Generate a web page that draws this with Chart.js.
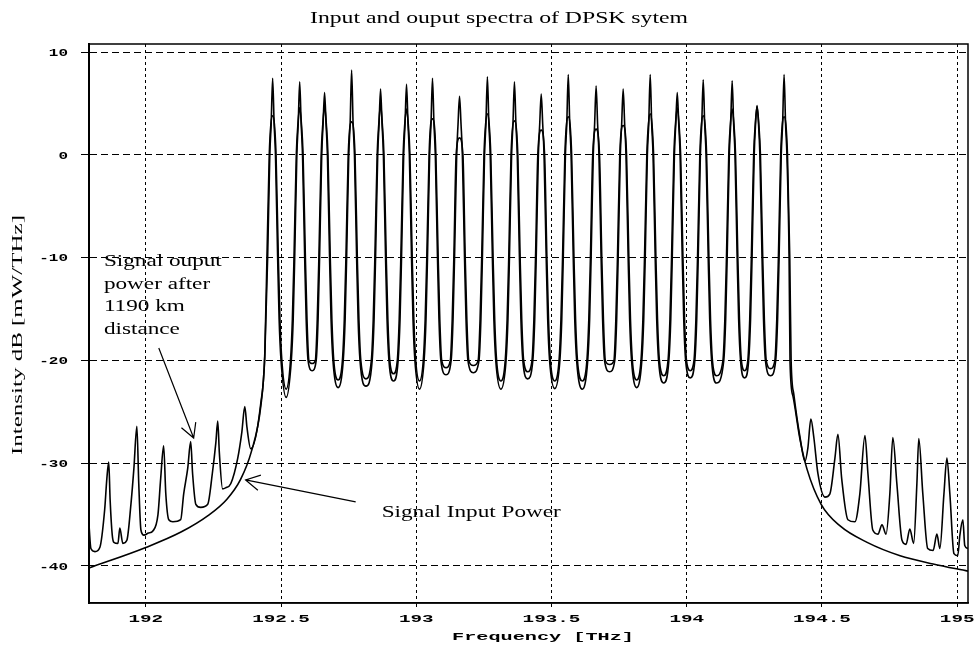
<!DOCTYPE html>
<html>
<head>
<meta charset="utf-8">
<title>DPSK spectra</title>
<script src="https://cdn.jsdelivr.net/npm/chart.js@4.4.1/dist/chart.umd.min.js"></script>
<style>
  html, body { margin: 0; padding: 0; background: #fff; }
  #wrap { width: 980px; height: 650px; position: relative; }
</style>
</head>
<body>
<div id="wrap"><canvas id="spec"></canvas></div>
<script>
// 20 WDM channels, 100 GHz grid (THz)
const chFreq = [192.469, 192.569, 192.661, 192.761, 192.868, 192.964, 193.060, 193.160, 193.263, 193.363,
                193.462, 193.562, 193.665, 193.765, 193.865, 193.965, 194.061, 194.168, 194.260, 194.360];
// peak levels (dB)
const peakIn  = [7.45, 7.1, 6.05, 8.25, 6.4, 6.85, 7.45, 5.7, 7.6, 7.1, 5.9, 7.8, 6.7, 6.4, 7.8, 6.05, 7.3, 7.2, 4.8, 7.8];
const peakOut = [3.8, 4.6, 4.75, 3.2, 4.9, 4.45, 3.5, 1.65, 4.0, 3.3, 2.4, 3.7, 2.5, 2.85, 4.0, 4.6, 3.8, 4.45, 4.7, 3.7];
// floor between neighbouring channels
const valleyFreq = [192.519, 192.615, 192.711, 192.814, 192.916, 193.012, 193.110, 193.211, 193.313, 193.412,
                    193.512, 193.614, 193.715, 193.815, 193.915, 194.013, 194.110, 194.214, 194.310];
const valleyIn  = [-23.6, -21.0, -22.65, -22.5, -22.0, -22.8, -21.4, -21.2, -22.8, -21.8,
                   -22.75, -22.8, -21.1, -22.65, -22.2, -21.7, -22.2, -21.7, -21.5];
const valleyOut = [-22.8, -20.3, -21.9, -21.8, -21.3, -22.0, -20.7, -20.5, -22.0, -21.1,
                   -22.0, -22.0, -20.4, -21.9, -21.5, -21.0, -21.5, -21.0, -20.8];
// flank levels (dB) and their distance from the channel centre (THz)
const flankLevels = [3, 0, -10, -16, -20];
const flankIn  = [0.0055, 0.0105, 0.0185, 0.024, 0.031];
const flankOut = [0.0065, 0.0125, 0.021, 0.027, 0.034];

// out-of-band parts [THz, dB]
const inLeft = [[191.79, -40.2], [192.0, -38.2], [192.13, -36.7], [192.23, -35.1], [192.30, -33.5],
                [192.35, -31.6], [192.39, -28.9], [192.425, -24.5], [192.44, -19.6]];
const inRight = [[194.382, -20.2], [194.393, -23.5], [194.419, -27.7], [194.445, -30.6], [194.497, -34.0],
                 [194.567, -36.1], [194.667, -37.7], [194.789, -39.0], [194.911, -39.8], [195.04, -40.5]];
const outLeft = [[191.79, -36.0], [191.797, -38.3], [191.812, -38.6], [191.830, -38.2], [191.848, -34.5],
                 [191.856, -31.5], [191.863, -29.9], [191.868, -33.5], [191.876, -37.0], [191.882, -37.7],
                 [191.897, -37.8], [191.904, -36.3], [191.915, -37.8], [191.930, -37.5], [191.945, -34.0],
                 [191.956, -30.5], [191.967, -26.4], [191.974, -32.0], [191.982, -36.5], [191.993, -37.0],
                 [192.010, -36.8], [192.026, -36.6], [192.045, -35.0], [192.055, -31.5], [192.066, -28.3],
                 [192.074, -33.0], [192.085, -35.5], [192.100, -35.7], [192.129, -35.5], [192.140, -33.0],
                 [192.155, -30.5], [192.166, -27.9], [192.173, -31.0], [192.185, -34.0], [192.203, -34.3],
                 [192.229, -34.0], [192.246, -31.0], [192.259, -28.0], [192.266, -25.9], [192.272, -29.0],
                 [192.284, -32.5], [192.295, -32.4], [192.314, -32.0], [192.340, -29.5], [192.355, -27.0],
                 [192.366, -24.5], [192.374, -26.5], [192.388, -28.6], [192.425, -24.2], [192.44, -19.3]];
const outRight = [[194.386, -20.0], [194.396, -23.3], [194.419, -27.5], [194.437, -29.8], [194.448, -28.5],
                  [194.459, -25.7], [194.470, -27.5], [194.485, -31.0], [194.511, -33.3], [194.529, -33.0],
                  [194.548, -29.5], [194.559, -27.2], [194.573, -31.5], [194.596, -35.5], [194.622, -35.7],
                  [194.640, -33.0], [194.659, -27.3], [194.670, -31.0], [194.688, -36.5], [194.707, -36.9],
                  [194.722, -36.0], [194.737, -36.9], [194.751, -33.0], [194.762, -27.5], [194.777, -32.0],
                  [194.796, -37.5], [194.811, -37.9], [194.825, -36.4], [194.839, -37.8], [194.851, -32.0],
                  [194.858, -27.6], [194.873, -33.0], [194.891, -38.3], [194.911, -38.5], [194.925, -36.9],
                  [194.936, -38.3], [194.951, -33.0], [194.962, -29.5], [194.973, -33.0], [194.988, -38.8],
                  [195.002, -39.0], [195.010, -37.0], [195.021, -35.5], [195.028, -38.0], [195.04, -38.3]];

const xTicks = [192, 192.5, 193, 193.5, 194, 194.5, 195];
const yTicks = [-40, -30, -20, -10, 0, 10];

// assemble one trace: left tail, channel flanks/peaks/valleys, right tail
function buildTrace(peaks, valleys, offs, left, right) {
  const pts = left.map(([x, y]) => ({ x, y }));
  const n = chFreq.length;
  chFreq.forEach((fc, i) => {
    for (let k = flankLevels.length - 1; k >= 0; k--) {
      if (flankLevels[k] >= peaks[i] - 0.3) continue;
      if (i === 0 && flankLevels[k] < -10) continue;
      pts.push({ x: fc - offs[k], y: flankLevels[k] });
    }
    pts.push({ x: fc, y: peaks[i] });
    for (let k = 0; k < flankLevels.length; k++) {
      if (flankLevels[k] >= peaks[i] - 0.3) continue;
      if (i === n - 1 && flankLevels[k] < -10) continue;
      pts.push({ x: fc + offs[k], y: flankLevels[k] });
    }
    if (i < n - 1) pts.push({ x: valleyFreq[i], y: valleys[i] });
  });
  right.forEach(([x, y]) => pts.push({ x, y }));
  return pts;
}

const inputTrace = buildTrace(peakIn, valleyIn, flankIn, inLeft, inRight);
const outputTrace = buildTrace(peakOut, valleyOut, flankOut, outLeft, outRight);

// text stretched horizontally like the bitmap fonts of the plot
function wideText(ctx, text, x, y, sx, align) {
  ctx.save();
  ctx.translate(x, y);
  ctx.scale(sx, 1);
  ctx.textAlign = align;
  ctx.fillText(text, 0, 0);
  ctx.restore();
}
function fitText(ctx, text, x, y, width, align) {
  wideText(ctx, text, x, y, width / ctx.measureText(text).width, align);
}

function arrow(ctx, x0, y0, x1, y1) {
  ctx.beginPath();
  ctx.moveTo(x0, y0);
  ctx.lineTo(x1, y1);
  const a = Math.atan2(y0 - y1, x0 - x1);
  const len = 16, spread = 0.5;
  ctx.moveTo(x1 + len * Math.cos(a - spread), y1 + len * Math.sin(a - spread));
  ctx.lineTo(x1, y1);
  ctx.lineTo(x1 + len * Math.cos(a + spread), y1 + len * Math.sin(a + spread));
  ctx.stroke();
}

const decorations = {
  id: 'decorations',
  afterDraw(chart) {
    const { ctx, chartArea: ca, scales: { x, y } } = chart;
    ctx.save();
    ctx.fillStyle = '#000';
    ctx.strokeStyle = '#000';
    ctx.setLineDash([]);

    // plot frame
    ctx.lineWidth = 1.5;
    ctx.strokeRect(ca.left, ca.top, ca.right - ca.left, ca.bottom - ca.top);
    ctx.lineWidth = 2;
    ctx.beginPath();
    ctx.moveTo(ca.left, ca.top);
    ctx.lineTo(ca.left, ca.bottom);
    ctx.stroke();

    // tick labels
    ctx.font = 'bold 11px "Liberation Mono"';
    ctx.textBaseline = 'middle';
    x.ticks.forEach(t => wideText(ctx, String(t.value), x.getPixelForValue(t.value), 619, 1.75, 'center'));
    y.ticks.forEach(t => wideText(ctx, String(t.value), 68, y.getPixelForValue(t.value) + 1, 1.45, 'right'));

    // axis titles
    fitText(ctx, 'Frequency [THz]', 543, 637, 182, 'center');
    ctx.font = '14px "Liberation Serif"';
    ctx.textBaseline = 'alphabetic';
    ctx.save();
    ctx.translate(22, 335);
    ctx.rotate(-Math.PI / 2);
    fitText(ctx, 'Intensity dB [mW/THz]', 0, 0, 240, 'center');
    ctx.restore();

    // title
    ctx.font = '16px "Liberation Serif"';
    fitText(ctx, 'Input and ouput spectra of DPSK sytem', 499, 23, 378, 'center');

    // annotations
    ctx.font = '16px "Liberation Serif"';
    const lines = ['Signal ouput', 'power after', '1190 km', 'distance'];
    const tx = x.getPixelForValue(191.845), ty = y.getPixelForValue(-10.82);
    lines.forEach((s, i) => wideText(ctx, s, tx, ty + i * 22.7, 1.45, 'left'));
    wideText(ctx, 'Signal Input Power', x.getPixelForValue(192.872), y.getPixelForValue(-35.23), 1.45, 'left');

    ctx.lineWidth = 1.2;
    arrow(ctx, x.getPixelForValue(192.048), y.getPixelForValue(-18.79),
               x.getPixelForValue(192.177), y.getPixelForValue(-27.55));
    arrow(ctx, x.getPixelForValue(192.776), y.getPixelForValue(-33.77),
               x.getPixelForValue(192.369), y.getPixelForValue(-31.63));
    ctx.restore();
  }
};

const traceStyle = { borderColor: '#000', borderWidth: 1.6, pointRadius: 0, fill: false,
                     cubicInterpolationMode: 'monotone' };

new Chart(document.getElementById('spec'), {
  type: 'line',
  data: {
    datasets: [
      { label: 'Signal Input Power', data: inputTrace, ...traceStyle },
      { label: 'Signal output power after 1190 km', data: outputTrace, ...traceStyle }
    ]
  },
  options: {
    responsive: true,
    maintainAspectRatio: false,
    animation: false,
    layout: { padding: { top: 44, right: 12, left: 0, bottom: 0 } },
    plugins: { legend: { display: false }, tooltip: { enabled: false }, title: { display: false } },
    scales: {
      x: {
        type: 'linear',
        min: 191.79,
        max: 195.04,
        afterBuildTicks: s => { s.ticks = xTicks.map(v => ({ value: v })); },
        afterFit: s => { s.height = 47; },
        ticks: { display: false },
        grid: { color: '#000', lineWidth: 1, drawTicks: true, tickLength: 4,
                tickColor: '#000', tickBorderDash: [] },
        border: { display: true, color: '#000', width: 1.5, dash: [3, 3] }
      },
      y: {
        min: -43.6,
        max: 10.78,
        afterBuildTicks: s => { s.ticks = yTicks.map(v => ({ value: v })); },
        afterFit: s => { s.width = 89; },
        ticks: { display: false },
        grid: { color: '#000', lineWidth: 1, drawTicks: true, tickLength: 8,
                tickColor: '#000', tickBorderDash: [] },
        border: { display: true, color: '#000', width: 2, dash: [7, 4] }
      }
    }
  },
  plugins: [decorations]
});
</script>
</body>
</html>
